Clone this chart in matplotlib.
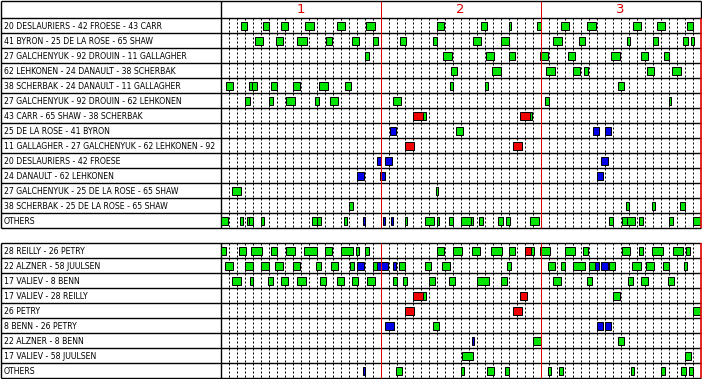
import matplotlib
matplotlib.use("Agg")
import matplotlib.pyplot as plt

# line combinations and their shifts (start min, end min, situation)
# g = even strength, r = power play, b = short handed
top_labels = [
    "20 DESLAURIERS - 42 FROESE - 43 CARR",
    "41 BYRON - 25 DE LA ROSE - 65 SHAW",
    "27 GALCHENYUK - 92 DROUIN - 11 GALLAGHER",
    "62 LEHKONEN - 24 DANAULT - 38 SCHERBAK",
    "38 SCHERBAK - 24 DANAULT - 11 GALLAGHER",
    "27 GALCHENYUK - 92 DROUIN - 62 LEHKONEN",
    "43 CARR - 65 SHAW - 38 SCHERBAK",
    "25 DE LA ROSE - 41 BYRON",
    "11 GALLAGHER - 27 GALCHENYUK - 62 LEHKONEN - 92",
    "20 DESLAURIERS - 42 FROESE",
    "24 DANAULT - 62 LEHKONEN",
    "27 GALCHENYUK - 25 DE LA ROSE - 65 SHAW",
    "38 SCHERBAK - 25 DE LA ROSE - 65 SHAW",
    "OTHERS",
]
top_shifts = [
    [(2.6, 3.3, 'g'), (5.25, 6.1, 'g'), (7.6, 8.4, 'g'), (10.6, 11.7, 'g'), (14.5, 15.6, 'g'),
     (18.2, 19.3, 'g'), (27.0, 27.9, 'g'), (32.6, 33.3, 'g'), (36.0, 36.25, 'g'), (39.6, 40.0, 'g'),
     (42.5, 43.55, 'g'), (45.75, 46.9, 'g'), (51.6, 52.6, 'g'), (54.5, 55.55, 'g'), (58.25, 59.05, 'g')],
    [(4.35, 5.3, 'g'), (6.9, 7.8, 'g'), (9.6, 10.8, 'g'), (13.2, 13.9, 'g'), (16.4, 17.3, 'g'),
     (19.1, 19.7, 'g'), (22.4, 23.2, 'g'), (26.5, 27.1, 'g'), (31.5, 32.55, 'g'), (35.0, 36.0, 'g'),
     (41.6, 42.7, 'g'), (44.75, 45.55, 'g'), (50.8, 51.2, 'g'), (54.1, 54.7, 'g'), (57.8, 58.4, 'g'),
     (58.8, 59.2, 'g')],
    [(18.0, 18.55, 'g'), (27.75, 28.9, 'g'), (33.2, 34.2, 'g'), (36.1, 36.8, 'g'), (39.9, 40.95, 'g'),
     (43.4, 44.25, 'g'), (48.75, 49.9, 'g'), (52.5, 53.4, 'g'), (55.4, 56.1, 'g')],
    [(28.8, 29.6, 'g'), (33.9, 35.05, 'g'), (40.7, 41.8, 'g'), (44.1, 44.9, 'g'), (45.4, 45.9, 'g'),
     (53.25, 54.2, 'g'), (56.4, 57.55, 'g')],
    [(0.7, 1.55, 'g'), (3.5, 3.9, 'g'), (3.9, 4.55, 'g'), (6.3, 7.05, 'g'), (9.1, 9.9, 'g'),
     (12.3, 13.4, 'g'), (15.6, 16.3, 'g'), (28.7, 29.05, 'g'), (33.05, 33.4, 'g'), (49.7, 50.4, 'g')],
    [(3.1, 3.7, 'g'), (6.0, 6.55, 'g'), (8.2, 9.3, 'g'), (11.8, 12.3, 'g'), (13.7, 14.7, 'g'),
     (21.6, 22.6, 'g'), (40.6, 41.05, 'g'), (56.0, 56.3, 'g')],
    [(24.0, 25.3, 'r'), (25.3, 25.7, 'g'), (37.45, 38.7, 'r'), (38.7, 38.9, 'g')],
    [(21.2, 21.9, 'b'), (29.4, 30.25, 'g'), (46.6, 47.3, 'b'), (48.1, 48.8, 'b')],
    [(23.1, 24.2, 'r'), (36.6, 37.7, 'r')],
    [(19.5, 20.0, 'b'), (20.5, 21.4, 'b'), (47.6, 48.4, 'b')],
    [(17.1, 17.9, 'b'), (19.9, 20.55, 'b'), (47.1, 47.8, 'b')],
    [(1.4, 2.6, 'g'), (26.9, 27.15, 'g')],
    [(16.1, 16.55, 'g'), (50.7, 51.0, 'g'), (53.9, 54.25, 'g'), (57.4, 58.05, 'g')],
    [(0.0, 0.9, 'g'), (2.45, 2.8, 'g'), (3.3, 3.6, 'g'), (3.6, 4.0, 'g'), (5.1, 5.4, 'g'),
     (11.45, 12.0, 'g'), (12.0, 12.55, 'g'), (15.4, 15.8, 'g'), (17.75, 18.1, 'b'), (20.25, 20.6, 'b'),
     (21.25, 21.6, 'b'), (23.0, 23.3, 'g'), (25.5, 26.7, 'g'), (27.0, 27.25, 'g'), (28.6, 29.05, 'g'),
     (30.1, 31.3, 'g'), (31.3, 31.6, 'g'), (32.35, 32.8, 'g'), (34.7, 35.3, 'g'), (35.7, 36.2, 'g'),
     (38.7, 39.8, 'g'), (48.6, 49.05, 'g'), (50.2, 50.8, 'g'), (50.8, 51.85, 'g'), (52.3, 52.8, 'g'),
     (56.1, 56.55, 'g'), (59.0, 60.0, 'g')],
]

bottom_labels = [
    "28 REILLY - 26 PETRY",
    "22 ALZNER - 58 JUULSEN",
    "17 VALIEV - 8 BENN",
    "17 VALIEV - 28 REILLY",
    "26 PETRY",
    "8 BENN - 26 PETRY",
    "22 ALZNER - 8 BENN",
    "17 VALIEV - 58 JUULSEN",
    "OTHERS",
]
bottom_shifts = [
    [(0.0, 0.65, 'g'), (2.35, 3.2, 'g'), (3.85, 5.2, 'g'), (6.3, 7.05, 'g'), (8.2, 9.3, 'g'),
     (10.4, 12.05, 'g'), (13.0, 13.9, 'g'), (15.1, 16.55, 'g'), (16.9, 17.3, 'g'), (18.0, 18.55, 'g'),
     (27.0, 27.9, 'g'), (29.0, 30.2, 'g'), (31.45, 32.4, 'g'), (33.8, 35.2, 'g'), (36.1, 36.8, 'g'),
     (38.0, 38.85, 'r'), (38.85, 39.2, 'g'), (39.9, 41.2, 'g'), (43.05, 44.3, 'g'), (45.25, 45.95, 'g'),
     (50.2, 51.2, 'g'), (52.3, 52.8, 'g'), (53.9, 55.3, 'g'), (56.5, 57.85, 'g'), (58.2, 58.7, 'g')],
    [(0.5, 1.55, 'g'), (3.0, 4.05, 'g'), (5.0, 6.1, 'g'), (6.85, 7.8, 'g'), (9.05, 9.9, 'g'),
     (11.9, 12.55, 'g'), (13.75, 14.7, 'g'), (16.2, 16.7, 'g'), (17.1, 17.9, 'b'), (19.1, 19.6, 'g'),
     (19.6, 20.9, 'b'), (21.5, 21.9, 'b'), (22.35, 23.05, 'g'), (25.5, 26.3, 'g'), (27.7, 28.65, 'g'),
     (35.85, 36.3, 'g'), (40.95, 41.8, 'g'), (42.6, 43.1, 'g'), (44.1, 45.55, 'g'), (46.1, 46.85, 'g'),
     (46.85, 47.3, 'b'), (47.6, 48.4, 'b'), (48.6, 49.3, 'g'), (51.4, 52.55, 'g'), (53.2, 54.2, 'g'),
     (55.35, 56.05, 'g'), (57.95, 58.3, 'g')],
    [(1.4, 2.55, 'g'), (3.7, 4.05, 'g'), (5.95, 6.55, 'g'), (7.6, 8.4, 'g'), (9.6, 10.7, 'g'),
     (12.4, 13.2, 'g'), (14.5, 15.4, 'g'), (16.4, 17.2, 'g'), (18.25, 19.3, 'g'), (21.6, 22.05, 'g'),
     (22.85, 23.3, 'g'), (26.0, 26.8, 'g'), (28.5, 29.3, 'g'), (32.1, 33.55, 'g'), (35.0, 35.8, 'g'),
     (41.6, 42.55, 'g'), (45.75, 46.4, 'g'), (50.9, 51.55, 'g'), (52.5, 53.4, 'g'), (55.9, 56.7, 'g')],
    [(24.0, 25.3, 'r'), (25.3, 25.7, 'g'), (37.45, 38.3, 'r'), (49.0, 49.9, 'g')],
    [(23.1, 24.2, 'r'), (36.6, 37.7, 'r'), (59.0, 60.0, 'g')],
    [(20.6, 21.7, 'b'), (26.6, 27.3, 'g'), (47.1, 47.8, 'b'), (48.1, 48.8, 'b')],
    [(31.4, 31.7, 'b'), (39.0, 40.05, 'g'), (49.7, 50.4, 'g')],
    [(30.2, 31.55, 'g'), (58.1, 58.8, 'g')],
    [(17.75, 18.1, 'b'), (21.9, 22.7, 'g'), (30.0, 30.4, 'g'), (33.35, 34.2, 'g'), (35.6, 36.1, 'g'),
     (40.95, 41.35, 'g'), (42.35, 42.8, 'g'), (51.35, 51.7, 'g'), (55.1, 55.5, 'g'), (57.5, 58.2, 'g'),
     (58.6, 59.0, 'g')],
]

periods = ["1", "2", "3"]
colors = {'g': '#00E400', 'r': '#F00000', 'b': '#0000E8'}

W, H = 702, 379
PX_MIN = 8.0          # pixels per minute
LABEL_W = 220.0       # width of the label column in px
LW = 0.72             # one pixel
GRID_LW = 1.0

fig = plt.figure(figsize=(W / 100, H / 100), dpi=100)


def table(y_top, y_bot, labels, shifts, header_rows=0.0):
    ax = fig.add_axes([0.5 / W, 1 - y_bot / H, (LABEL_W + 60 * PX_MIN) / W, (y_bot - y_top) / H])
    xl = -LABEL_W / PX_MIN
    n = len(labels)
    ax.set_xlim(xl, 60)
    ax.set_ylim(n, -header_rows)
    ax.axis('off')

    # dotted minute marks per row
    segs_x = [m for m in range(1, 60) if m % 20]
    for r in range(n):
        ax.vlines(segs_x, r, r + 1, colors='black', linewidth=LW,
                  linestyles=(0, (2, 2)), zorder=1)

    # shifts
    for r, row in enumerate(shifts):
        for s, e, k in row:
            ax.barh(r + 0.5, e - s, left=s, height=0.52, color=colors[k],
                    edgecolor='black', linewidth=LW, zorder=3)

    # grid lines
    top = -header_rows
    ax.hlines(range(n + 1), xl, 60, colors='black', linewidth=GRID_LW, zorder=2, clip_on=False)
    if header_rows:
        ax.hlines(top, xl, 60, colors='black', linewidth=GRID_LW, zorder=2, clip_on=False)
    ax.vlines([xl, 0], top, n, colors='black', linewidth=GRID_LW, zorder=2, clip_on=False)
    ax.vlines([20, 40], top, n, colors='#E00000', linewidth=LW, zorder=4, clip_on=False)
    ax.vlines(60, 0, n, colors='#E00000', linewidth=1.2, zorder=4, clip_on=False)
    if header_rows:
        ax.vlines(60, top, 0, colors='black', linewidth=GRID_LW, zorder=4, clip_on=False)
        for i, p in enumerate(periods):
            ax.text(10 + 20 * i, top / 2, p, color='#E00000', fontsize=9.5,
                    ha='center', va='center')

    for r, lab in enumerate(labels):
        ax.text(xl + 3.5 / PX_MIN, r + 0.53, lab, fontsize=5.6, ha='left',
                va='center', color='black')
    return ax


table(0.5, 228.3, top_labels, top_shifts, header_rows=17.8 / 15)
table(243.3, 378.3, bottom_labels, bottom_shifts)

fig.savefig("out.png", dpi=100)
